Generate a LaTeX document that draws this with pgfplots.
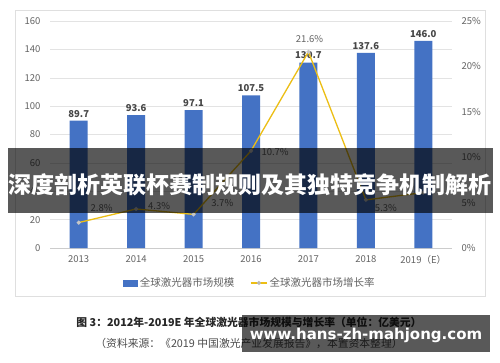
\documentclass[border=0pt]{standalone}
\usepackage{pgfplots}
\pgfplotsset{compat=1.18}
\usepackage{fontspec}
\setmainfont{Noto Sans CJK SC}
\newfontfamily\wmfont{DejaVu Sans}
\definecolor{barblue}{RGB}{68,114,196}
\definecolor{gold}{RGB}{236,190,20}
\definecolor{tickgray}{RGB}{100,100,100}
\begin{document}
\begin{tikzpicture}
\fill[white] (0pt,0pt) rectangle (500pt,362pt);
\path[use as bounding box] (0pt,0pt) rectangle (500pt,362pt);
\draw[gray!25] (15pt,66pt) rectangle (485pt,352pt);
\begin{axis}[at={(50pt,114pt)}, anchor=south west, width=402pt, height=227pt, scale only axis,
  xmin=-0.5, xmax=6.5, ymin=0, ymax=160, ytick={0,20,...,160},
  xtick={0,...,6}, xticklabels={2013,2014,2015,2016,2017,2018,2019（E）},
  ymajorgrids, grid style={gray!22},
  axis x line*=bottom, axis y line*=left,
  y axis line style={draw=none}, x axis line style={-,gray!40},
  major tick length=0pt,
  tick label style={font=\fontsize{9.5}{11}\selectfont, text=tickgray},
  yticklabel style={xshift=-6pt},
  xticklabel style={yshift=-4pt},
  /pgf/number format/assume math mode=true,
  clip=false]
\addplot[ybar, bar width=18pt, fill=barblue, draw=none,
  nodes near coords, point meta=explicit symbolic,
  nodes near coords style={font=\bfseries\fontsize{9.5}{11}\selectfont, text=black!72}]
  coordinates {(0,89.7)[89.7] (1,93.6)[93.6] (2,97.1)[97.1] (3,107.5)[107.5] (4,130.7)[130.7] (5,137.6)[137.6] (6,146.0)[146.0]};
\end{axis}
\begin{axis}[at={(50pt,114pt)}, anchor=south west, width=402pt, height=227pt, scale only axis,
  xmin=-0.5, xmax=6.5, ymin=0, ymax=25, ytick={0,5,...,25},
  yticklabel={\pgfmathprintnumber{\tick}\%},
  axis y line*=right, axis x line=none,
  y axis line style={draw=none},
  major tick length=0pt,
  tick label style={font=\fontsize{9.5}{11}\selectfont, text=tickgray},
  yticklabel style={xshift=6pt},
  /pgf/number format/assume math mode=true,
  legend style={at={(0.4975,-0.154)}, anchor=center, draw=none, fill=none,
    legend columns=2, font=\fontsize{10.5}{12}\selectfont, text=tickgray,
    /tikz/every even column/.append style={column sep=14pt}},
  clip=false]
\addlegendimage{legend image code/.code={\fill[barblue] (0pt,-3pt) rectangle (14pt,3pt);}}
\addlegendentry{全球激光器市场规模}
\addplot[gold, line width=1.3pt, mark=*, mark size=1.3pt,
  mark options={fill=gray!55, draw=gray!45},
  legend image code/.code={\draw[gold, line width=1.2pt] (0pt,0pt) -- (16pt,0pt); \fill[gray!55] (8pt,0pt) circle (1.3pt);}]
  coordinates {(0,2.8) (1,4.3) (2,3.7) (3,10.7) (4,21.6) (5,5.3) (6,6.1)};
\addlegendentry{全球激光器市场增长率}
\begin{scope}[every node/.style={font=\fontsize{9.5}{11}\selectfont, text=tickgray}]
\node at (axis cs:0.40,4.4) {2.8\%};
\node at (axis cs:1.40,4.6) {4.3\%};
\node at (axis cs:2.50,4.96) {3.7\%};
\node at (axis cs:3.42,10.57) {10.7\%};
\node at (axis cs:4.02,23.0) {21.6\%};
\node at (axis cs:5.35,4.4) {5.3\%};
\end{scope}
\end{axis}
% banner
\fill[black, opacity=0.65] (8pt,149pt) rectangle (493pt,214pt);
\node[text=white, font=\bfseries\fontsize{23}{26}\selectfont] at (250pt,177pt) {深度剖析英联杯赛制规则及其独特竞争机制解析};
% caption
\node[font=\bfseries\fontsize{10.8}{12}\selectfont, text=black!85] at (249pt,40pt) {图 3：2012年-2019E 年全球激光器市场规模与增长率（单位：亿美元）};
\node[font=\fontsize{10.8}{12}\selectfont, text=black!70] at (249pt,19pt) {（资料来源：《2019 中国激光产业发展报告》，本置资本整理）};
% watermark
\fill[black, opacity=0.65] (242pt,10pt) rectangle (490pt,47pt);
\node[text=white, font=\wmfont\bfseries\fontsize{15}{17}\selectfont] at (366pt,27pt) {www.hans-zh-mahjong.com};
\end{tikzpicture}
\end{document}
